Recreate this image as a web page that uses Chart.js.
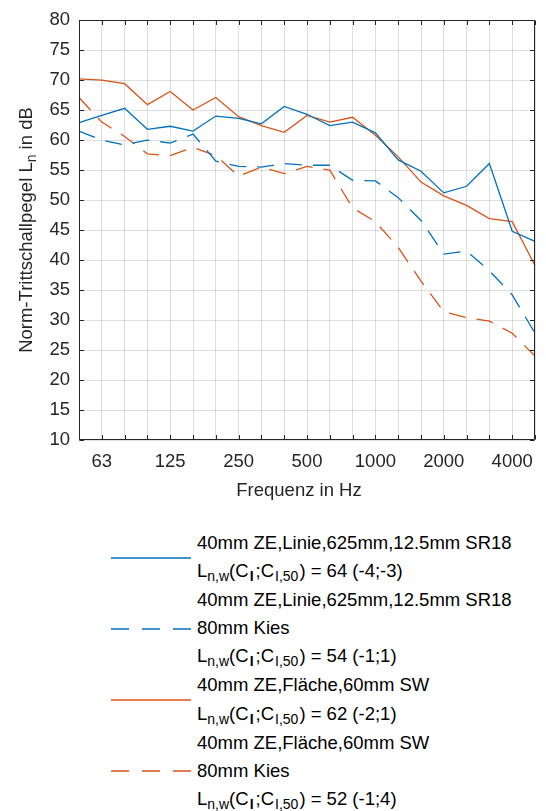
<!DOCTYPE html>
<html>
<head>
<meta charset="utf-8">
<script src="https://cdn.jsdelivr.net/npm/chart.js@4.4.1/dist/chart.umd.min.js"></script>
<style>
  body { margin: 0; background: #fff; font-family: "Liberation Sans", Arial, sans-serif; }
  #wrap { position: relative; width: 546px; height: 811px; overflow: hidden; }
  #chart { position: absolute; left: 0; top: 0; }
  #legend { position: absolute; left: 111px; top: 529px; color: #000; font-size: 18.5px; line-height: 28.1px; white-space: nowrap; }
  .entry { display: flex; align-items: center; }
  .entry svg { flex: none; width: 80px; height: 6px; margin-right: 6px; }
  .sb { font-size: 14px; position: relative; top: 4px; }
  .sb.i { font-weight: bold; padding: 0 2px 0 1px; }
  .sb.i50 { padding: 0 1px 0 1px; }
</style>
</head>
<body>
<div id="wrap">
  <canvas id="chart" width="546" height="505"></canvas>
  <div id="legend"></div>
</div>
<script>
// third-octave bands 50 Hz .. 5 kHz
const freqs = ["50", "63", "80", "100", "125", "160", "200", "250", "315", "400", "500",
  "630", "800", "1000", "1250", "1600", "2000", "2500", "3150", "4000", "5000"];
const tickLabels = ["63", "125", "250", "500", "1000", "2000", "4000"];

const linieSR18 = [62.9, 64.1, 65.3, 61.8, 62.3, 61.5, 64.0, 63.6, 62.7, 65.6, 64.3,
  62.4, 63.0, 61.2, 56.7, 54.8, 51.2, 52.3, 56.1, 44.8, 43.1];
const linieSR18Kies = [61.5, 60.0, 59.2, 60.0, 59.5, 61.0, 56.5, 55.6, 55.5, 56.1, 55.8,
  55.8, 53.3, 53.2, 50.4, 46.6, 41.0, 41.5, 38.2, 34.2, 27.8];
const flaecheSW = [70.2, 70.0, 69.4, 65.9, 68.1, 65.0, 67.1, 63.9, 62.4, 61.3, 64.1,
  63.0, 63.8, 60.8, 57.2, 53.0, 50.7, 49.1, 46.9, 46.4, 39.1];
const flaecheSWKies = [67.1, 63.0, 60.6, 57.7, 57.4, 58.8, 57.4, 54.0, 55.5, 54.4, 55.6,
  55.0, 48.7, 46.4, 42.1, 36.5, 31.4, 30.4, 29.8, 27.8, 24.0];

// single-number ratings Ln,w (CI;CI,50)
const lnw = [64, 54, 62, 52];
const ciTerms = ["-4;-3", "-1;1", "-2;1", "-1;4"];
const setupNames = [
  ["40mm ZE,Linie,625mm,12.5mm SR18"],
  ["40mm ZE,Linie,625mm,12.5mm SR18", "80mm Kies"],
  ["40mm ZE,Fläche,60mm SW"],
  ["40mm ZE,Fläche,60mm SW", "80mm Kies"]
];

const BLUE = "#0072BD";
const ORANGE = "#D95319";
const AXIS = "#262626";
const DASH = [17, 11];
const FONT = "'Liberation Sans', Arial, sans-serif";
const FS = 18.5;

function line(data, color, dashed) {
  return {
    data: data,
    borderColor: color,
    borderWidth: 1.3,
    borderDash: dashed ? DASH : [],
    pointRadius: 0,
    tension: 0,
    fill: false
  };
}

// frame with inward ticks (box on) and axis titles
const frame = {
  id: "frame",
  afterDraw(chart) {
    const { ctx, chartArea: a, scales } = chart;
    const L = Math.round(a.left) + 0.5, R = Math.round(a.right) - 0.5;
    const T = Math.round(a.top) + 0.5, B = Math.round(a.bottom) - 0.5;
    ctx.save();
    ctx.strokeStyle = AXIS;
    ctx.lineWidth = 1;
    ctx.beginPath();
    ctx.rect(L, T, R - L, B - T);
    scales.x.ticks.forEach((t, i) => {
      const px = Math.round(scales.x.getPixelForTick(i)) + 0.5;
      ctx.moveTo(px, B); ctx.lineTo(px, B - 4.5);
      ctx.moveTo(px, T); ctx.lineTo(px, T + 4.5);
    });
    scales.y.ticks.forEach((t, i) => {
      const py = Math.round(scales.y.getPixelForTick(i)) + 0.5;
      ctx.moveTo(L, py); ctx.lineTo(L + 4.5, py);
      ctx.moveTo(R, py); ctx.lineTo(R - 4.5, py);
    });
    ctx.stroke();

    ctx.fillStyle = AXIS;
    ctx.textBaseline = "alphabetic";
    ctx.textAlign = "center";
    ctx.font = FS + "px " + FONT;
    ctx.fillText("Frequenz in Hz", 299, 496);

    // y title with subscript n
    const p1 = "Norm-Trittschallpegel L", p2 = "n", p3 = " in dB";
    ctx.font = FS + "px " + FONT;
    const w1 = ctx.measureText(p1).width, w3 = ctx.measureText(p3).width;
    ctx.font = "14px " + FONT;
    const w2 = ctx.measureText(p2).width;
    const total = w1 + w2 + w3;
    ctx.translate(32, (a.top + a.bottom) / 2);
    ctx.rotate(-Math.PI / 2);
    ctx.textAlign = "left";
    const x0 = -total / 2;
    ctx.font = FS + "px " + FONT;
    ctx.fillText(p1, x0, 0);
    ctx.font = "14px " + FONT;
    ctx.fillText(p2, x0 + w1, 4);
    ctx.font = FS + "px " + FONT;
    ctx.fillText(p3, x0 + w1 + w2, 0);
    ctx.restore();
  }
};

const chart = new Chart(document.getElementById("chart"), {
  type: "line",
  data: {
    labels: freqs,
    datasets: [
      line(linieSR18, BLUE, false),
      line(linieSR18Kies, BLUE, true),
      line(flaecheSW, ORANGE, false),
      line(flaecheSWKies, ORANGE, true)
    ]
  },
  options: {
    responsive: false,
    animation: false,
    devicePixelRatio: 1,
    layout: { padding: { top: 16, right: 0.5, left: 0, bottom: 0 } },
    plugins: { legend: { display: false }, tooltip: { enabled: false } },
    scales: {
      x: {
        type: "category",
        offset: false,
        afterFit(s) { s.height = 65; },
        grid: { color: "rgba(38,38,38,0.15)", drawTicks: false },
        border: { display: false },
        ticks: {
          autoSkip: false,
          maxRotation: 0,
          padding: 11,
          color: AXIS,
          font: { family: FONT, size: FS },
          callback(value) {
            const l = this.getLabelForValue(value);
            return tickLabels.includes(l) ? l : "";
          }
        }
      },
      y: {
        min: 10,
        max: 80,
        afterFit(s) { s.width = 79; },
        grid: { color: "rgba(38,38,38,0.15)", drawTicks: false },
        border: { display: false },
        ticks: {
          stepSize: 5,
          padding: 9,
          color: AXIS,
          font: { family: FONT, size: FS }
        }
      }
    }
  },
  plugins: [frame]
});

// legend: line sample + setup lines + rating line
const legend = document.getElementById("legend");
chart.data.datasets.forEach((ds, i) => {
  const rows = setupNames[i].map(s => "<div>" + s + "</div>");
  rows.push('<div>L<span class="sb">n,w</span>(C<span class="sb i">I</span>;C<span class="sb i50">I,50</span>) = ' +
    lnw[i] + " (" + ciTerms[i] + ")</div>");
  const dash = ds.borderDash.length ? ' stroke-dasharray="18 13"' : "";
  legend.insertAdjacentHTML("beforeend",
    '<div class="entry"><svg viewBox="0 0 80 6"><line x1="0" y1="3" x2="80" y2="3" stroke="' +
    ds.borderColor + '" stroke-width="1.3"' + dash + '/></svg><div>' + rows.join("") + "</div></div>");
});
</script>
</body>
</html>
